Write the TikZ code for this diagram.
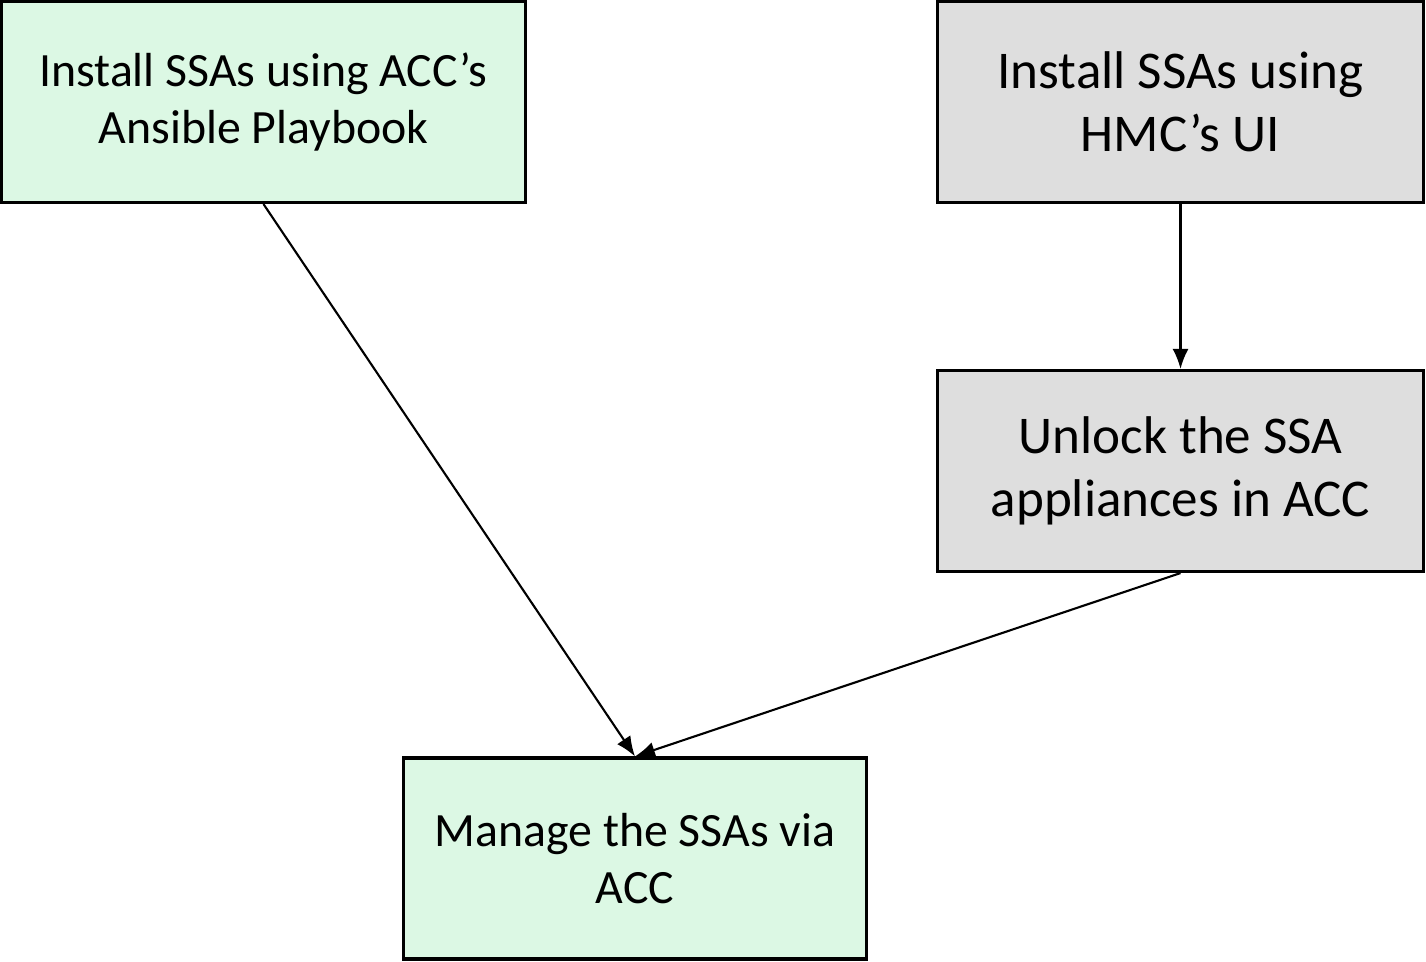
\documentclass[tikz,border=0pt]{standalone}
\usepackage{fontspec}
\setmainfont{Carlito}
\usepackage{tikz}
\usetikzlibrary{shapes,arrows,arrows.meta,positioning,calc}
\definecolor{boxgreen}{RGB}{220,248,228}
\definecolor{boxgray}{RGB}{222,222,222}
\tikzset{
  stepgreen/.style={draw=black,line width=0.9pt,fill=boxgreen,align=center,
    font=\fontsize{13.6}{16.2}\selectfont,minimum width=5.24cm,minimum height=2.01cm,inner sep=0pt},
  stepgray/.style={draw=black,line width=0.9pt,fill=boxgray,align=center,
    font=\fontsize{15.1}{17.9}\selectfont,minimum width=4.86cm,minimum height=2.01cm,inner sep=0pt},
  flow/.style={-{Latex[length=2mm,width=1.6mm]},line width=0.6pt}
}
\begin{document}
\begin{tikzpicture}
      \useasboundingbox (0,0) rectangle (14.26,9.61);
      \node[stepgreen] at (2.635,8.59)(ansible){Install SSAs using ACC’s\\Ansible Playbook};
      \node[stepgray] at (11.805,8.59)(hmc){Install SSAs using\\HMC’s UI};
      \node[stepgray] at (11.805,4.90)(unlock){Unlock the SSA\\appliances in ACC};
      \node[stepgreen,minimum width=4.63cm] at (6.35,1.025)(manage){Manage the SSAs via\\ACC};
      %
      \draw[flow] (ansible.south) -- (manage.north);
      \draw[flow] (hmc) -- (unlock);
      \draw[flow] (unlock.south) -- (manage.north);
    \end{tikzpicture}
\end{document}
